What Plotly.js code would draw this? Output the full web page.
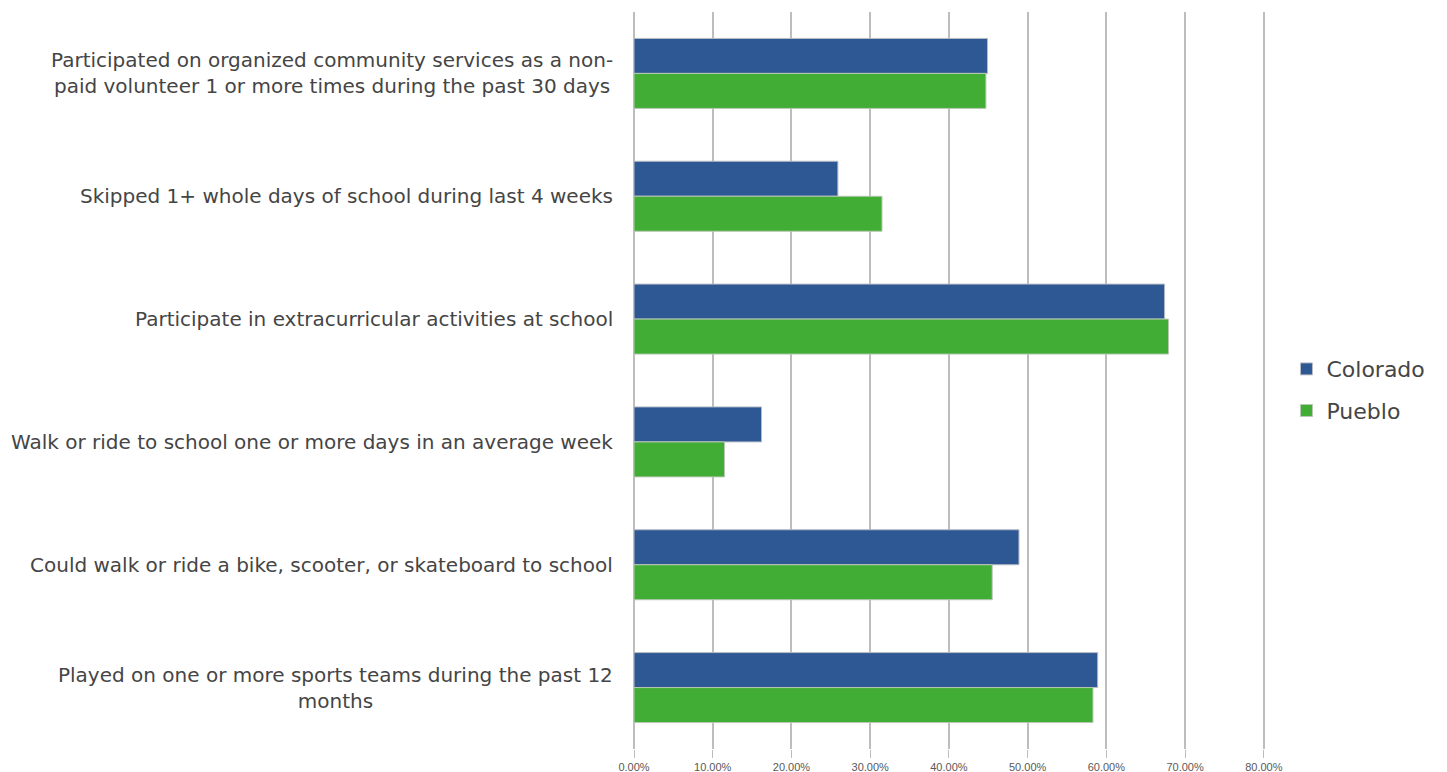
<!DOCTYPE html>
<html>
<head>
<meta charset="utf-8">
<script src="https://cdn.plot.ly/plotly-3.0.1.min.js"></script>
<style>html,body{margin:0;padding:0;background:#fff}#chart{width:1447px;height:772px}</style>
</head>
<body>
<div id="chart"></div>
<script>
const categories = [
  "Participated on organized community services as a non-<br>paid volunteer 1 or more times during the past 30 days",
  "Skipped 1+ whole days of school during last 4 weeks",
  "Participate in extracurricular activities at school",
  "Walk or ride to school one or more days in an average week",
  "Could walk or ride a bike, scooter, or skateboard to school",
  "Played on one or more sports teams during the past 12<br>months"
];
const catKeys = ["c1","c2","c3","c4","c5","c6"];
const colorado = [0.449, 0.259, 0.674, 0.162, 0.489, 0.589];
const pueblo   = [0.447, 0.315, 0.679, 0.115, 0.455, 0.583];
const tickVals = [0, 0.1, 0.2, 0.3, 0.4, 0.5, 0.6, 0.7, 0.8];

const traces = [
  {type:'bar', orientation:'h', name:'Colorado', legendgroup:'a', y:catKeys, x:colorado,
   marker:{color:'#2e5894', line:{color:'#b8bcc4', width:1}}, hoverinfo:'x'},
  {type:'bar', orientation:'h', name:'Pueblo', legendgroup:'b', y:catKeys, x:pueblo,
   marker:{color:'#42ad35', line:{color:'#b8c8b4', width:1}}, hoverinfo:'x'}
];

const annotations = categories.map((t,i)=>({
  xref:'paper', yref:'y', x:0, y:catKeys[i], xanchor:'right', yanchor:'middle',
  xshift:-19, align:'center', showarrow:false, text:t,
  font:{family:'DejaVu Sans, Verdana, sans-serif', size:20, color:'#454545'}
}));

const layout = {
  width:1447, height:772,
  margin:{l:634, r:182, t:12, b:23, pad:0},
  paper_bgcolor:'#ffffff', plot_bgcolor:'#ffffff',
  barmode:'group', bargap:0.43, bargroupgap:0,
  showlegend:true,
  legend:{x:1.034, y:0.487, xanchor:'left', yanchor:'middle',
          font:{family:'DejaVu Sans, Verdana, sans-serif', size:22, color:'#454545'},
          tracegroupgap:10, itemwidth:30},
  xaxis:{range:[0,0.8015], tickvals:tickVals, tickformat:'.2%', showgrid:true,
         gridcolor:'#bdbdbd', gridwidth:2, zeroline:true, zerolinecolor:'#bdbdbd', zerolinewidth:2,
         ticks:'outside', ticklen:8, tickcolor:'#bdbdbd', tickwidth:1,
         tickfont:{family:'Liberation Sans, Arial, sans-serif', size:11, color:'#595959'},
         fixedrange:true},
  yaxis:{type:'category', autorange:'reversed', showticklabels:false, showgrid:false,
         ticks:'', showline:false, zeroline:false, fixedrange:true},
  annotations:annotations
};

Plotly.newPlot('chart', traces, layout, {displayModeBar:false, staticPlot:true});
</script>
</body>
</html>
